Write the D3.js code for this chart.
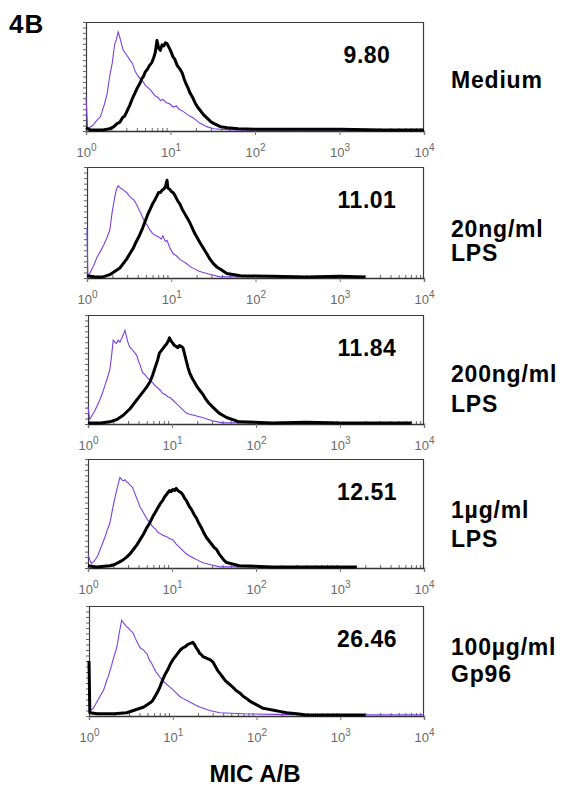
<!DOCTYPE html>
<html>
<head>
<meta charset="utf-8">
<script src="https://cdn.jsdelivr.net/npm/d3@7"></script>
<style>
  body { margin: 0; background: #fff; }
  svg { display: block; }
</style>
</head>
<body>
<svg id="chart" width="565" height="787"></svg>
<script>
const fontFamily = `Arial, "Liberation Sans", Helvetica, sans-serif`;

// readouts: [decade exponent, % of panel height]
const mediumIso = [[0,31],[0.02,2],[0.08,5],[0.12,9],[0.17,13],[0.22,25],[0.25,34],[0.28,50],[0.31,62],[0.34,80],[0.36,84],[0.38,91],[0.40,86],[0.42,80],[0.44,74],[0.48,70],[0.52,65],[0.55,62],[0.58,55],[0.61,51],[0.64,48],[0.67,46],[0.70,42],[0.73,40],[0.76,38],[0.79,35],[0.82,32],[0.85,31],[0.88,28],[0.91,29],[0.95,26],[0.99,25],[1.03,22],[1.07,23],[1.10,20],[1.15,18],[1.20,15],[1.27,12],[1.35,7],[1.43,4],[1.51,2],[1.7,1],[2.0,1],[2.5,1],[3.0,1],[3.5,1],[4,1]];
const mediumMic = [[0,3],[0.05,1],[0.2,1],[0.28,2],[0.33,4],[0.37,7],[0.40,8],[0.43,12],[0.46,14],[0.49,19],[0.52,24],[0.55,30],[0.58,35],[0.61,40],[0.64,44],[0.66,48],[0.68,50],[0.70,54],[0.73,57],[0.75,60],[0.78,63],[0.80,67],[0.82,72],[0.84,83],[0.86,76],[0.88,74],[0.90,79],[0.92,78],[0.94,81],[0.96,80],[0.98,77],[1.0,74],[1.03,68],[1.05,66],[1.08,60],[1.11,57],[1.14,53],[1.16,48],[1.18,44],[1.21,39],[1.23,35],[1.26,31],[1.29,26],[1.32,22],[1.35,19],[1.39,15],[1.43,12],[1.47,9],[1.51,7],[1.59,4],[1.67,3],[1.8,2],[2.0,1.5],[2.5,1.5],[3.0,1.5],[3.5,1],[4,1]];

const lps20Iso = [[0,45],[0.01,1],[0.06,8],[0.09,13],[0.12,19],[0.16,24],[0.2,30],[0.24,37],[0.27,43],[0.30,60],[0.33,73],[0.35,80],[0.37,83],[0.40,81],[0.42,80],[0.45,78],[0.47,77],[0.50,74],[0.53,72],[0.56,70],[0.59,66],[0.62,61],[0.64,58],[0.67,53],[0.69,50],[0.72,47],[0.74,44],[0.76,42],[0.78,40],[0.82,38],[0.85,37],[0.88,35],[0.90,38],[0.93,33],[0.95,34],[0.98,28],[1.02,22],[1.06,20],[1.10,17],[1.14,15],[1.18,13],[1.23,10],[1.28,8],[1.33,6],[1.38,5],[1.48,3],[1.58,1],[2.0,1],[2.5,1],[3.0,1],[3.3,1.5]];
const lps20Mic = [[0,2],[0.1,1],[0.19,1],[0.27,3],[0.31,5],[0.35,7],[0.39,9],[0.43,13],[0.47,17],[0.51,22],[0.55,27],[0.58,32],[0.62,38],[0.66,45],[0.69,51],[0.72,57],[0.75,62],[0.78,67],[0.81,71],[0.83,74],[0.85,77],[0.87,77],[0.89,79],[0.91,80],[0.93,82],[0.95,88],[0.96,81],[0.98,80],[1.00,78],[1.02,77],[1.04,75],[1.06,72],[1.08,69],[1.10,67],[1.13,62],[1.16,58],[1.19,54],[1.22,50],[1.25,45],[1.28,40],[1.31,36],[1.34,32],[1.38,27],[1.42,22],[1.46,17],[1.50,13],[1.54,10],[1.58,8],[1.66,4],[1.82,2],[2.2,1.5],[2.6,1],[3.0,1.5],[3.3,1]];

const lps200Iso = [[0,16],[0.02,4],[0.05,8],[0.08,12],[0.11,17],[0.14,22],[0.17,28],[0.20,35],[0.23,42],[0.26,50],[0.28,62],[0.30,77],[0.32,75],[0.34,74],[0.36,77],[0.38,75],[0.41,80],[0.44,86],[0.46,80],[0.47,76],[0.50,70],[0.52,69],[0.54,67],[0.56,65],[0.58,63],[0.60,58],[0.62,54],[0.65,47],[0.68,45],[0.71,42],[0.74,40],[0.77,38],[0.80,35],[0.83,33],[0.86,31],[0.89,28],[0.92,27],[0.95,25],[0.98,24],[1.01,22],[1.05,19],[1.09,16],[1.13,13],[1.17,10],[1.21,9],[1.26,8],[1.36,6],[1.48,3],[1.60,1],[2.0,1],[2.5,1.5],[3.0,1],[3.5,1],[3.85,1]];
const lps200Mic = [[0,1],[0.15,1],[0.26,2],[0.30,3],[0.34,4],[0.38,6],[0.42,8],[0.46,11],[0.50,14],[0.54,18],[0.58,22],[0.62,26],[0.66,30],[0.70,34],[0.74,39],[0.77,45],[0.80,52],[0.83,59],[0.85,65],[0.88,68],[0.90,70],[0.92,72],[0.94,74],[0.96,77],[0.97,79],[0.99,76],[1.01,74],[1.03,72],[1.05,71],[1.07,70],[1.09,72],[1.11,71],[1.13,70],[1.15,64],[1.17,58],[1.19,52],[1.21,47],[1.24,42],[1.27,38],[1.30,34],[1.33,31],[1.37,27],[1.40,23],[1.44,19],[1.48,16],[1.52,13],[1.56,10],[1.65,6],[1.80,2],[2.2,1],[2.6,1.5],[3.0,1],[3.5,1],[3.85,1]];

const lps1Iso = [[0,12],[0.04,4],[0.07,6],[0.09,8],[0.12,12],[0.14,16],[0.17,22],[0.20,28],[0.23,35],[0.26,41],[0.28,49],[0.30,57],[0.32,64],[0.34,71],[0.36,77],[0.38,83],[0.40,81],[0.42,80],[0.44,81],[0.46,79],[0.48,78],[0.50,76],[0.53,74],[0.56,68],[0.58,64],[0.60,60],[0.62,56],[0.65,52],[0.68,48],[0.71,44],[0.74,41],[0.77,38],[0.80,36],[0.83,33],[0.85,32],[0.89,30],[0.93,29],[0.97,27],[1.01,26],[1.05,22],[1.09,19],[1.13,16],[1.17,13],[1.21,11],[1.26,9],[1.31,7],[1.36,5],[1.46,3],[1.57,1],[2.0,1],[2.5,1],[3.0,1],[3.2,1]];
const lps1Mic = [[0,2],[0.1,1],[0.26,2],[0.31,3],[0.36,5],[0.41,7],[0.46,10],[0.50,13],[0.54,17],[0.58,21],[0.62,26],[0.66,31],[0.70,37],[0.74,42],[0.77,47],[0.80,51],[0.83,55],[0.86,59],[0.89,62],[0.91,65],[0.93,67],[0.95,69],[0.97,71],[0.99,70],[1.01,72],[1.03,71],[1.05,73],[1.07,71],[1.09,70],[1.11,69],[1.13,67],[1.15,64],[1.17,62],[1.19,59],[1.21,56],[1.23,54],[1.25,51],[1.27,48],[1.29,46],[1.32,41],[1.35,37],[1.38,32],[1.41,28],[1.44,25],[1.47,22],[1.50,19],[1.53,17],[1.56,13],[1.59,10],[1.62,7],[1.65,5],[1.80,2],[2.2,1],[2.6,1],[3.0,1],[3.2,1]];

const gp96Iso = [[0,4],[0.05,7],[0.08,11],[0.11,15],[0.14,19],[0.17,23],[0.19,27],[0.21,32],[0.23,36],[0.25,41],[0.27,46],[0.29,52],[0.31,57],[0.33,62],[0.35,70],[0.36,75],[0.38,83],[0.39,87],[0.41,85],[0.42,84],[0.45,81],[0.47,80],[0.49,78],[0.51,77],[0.53,75],[0.55,71],[0.57,68],[0.59,65],[0.61,62],[0.63,61],[0.65,60],[0.67,58],[0.69,57],[0.72,51],[0.74,49],[0.76,46],[0.78,43],[0.80,40],[0.83,37],[0.85,35],[0.88,32],[0.91,30],[0.94,28],[0.97,26],[1.00,24],[1.04,21],[1.08,18],[1.12,16],[1.17,14],[1.22,12],[1.27,10],[1.33,8],[1.44,5],[1.56,3],[1.84,2],[2.2,1.5],[2.6,1],[3.0,1],[3.5,1],[4.0,1]];
const gp96Mic = [[0,50],[0.01,3],[0.1,2],[0.3,2],[0.45,3],[0.53,5],[0.61,7],[0.65,8],[0.69,10],[0.73,12],[0.76,14],[0.79,18],[0.82,22],[0.85,27],[0.88,33],[0.91,38],[0.94,42],[0.97,47],[1.00,51],[1.03,54],[1.06,57],[1.09,60],[1.12,62],[1.15,63],[1.18,65],[1.21,66],[1.24,67],[1.26,65],[1.28,62],[1.30,60],[1.32,57],[1.34,56],[1.36,54],[1.39,53],[1.42,52],[1.45,51],[1.48,49],[1.51,45],[1.54,41],[1.57,38],[1.60,35],[1.63,32],[1.66,30],[1.69,28],[1.72,26],[1.76,23],[1.80,21],[1.84,18],[1.88,16],[1.93,13],[1.98,11],[2.03,9],[2.08,7],[2.15,6],[2.22,5],[2.29,4],[2.36,3],[2.48,2],[2.60,1],[3.0,1],[3.3,1]];

const isoCurves = [mediumIso, lps20Iso, lps200Iso, lps1Iso, gp96Iso];
const micCurves = [mediumMic, lps20Mic, lps200Mic, lps1Mic, gp96Mic];
const mfiValues = ["9.80", "11.01", "11.84", "12.51", "26.46"];
const conditionLabels = [["Medium"], ["20ng/ml", "LPS"], ["200ng/ml", "LPS"], ["1µg/ml", "LPS"], ["100µg/ml", "Gp96"]];
const decadeExponents = [0, 1, 2, 3, 4];

// layout (pixels)
const panelTops = [22, 167, 315, 459, 606];
const panelLefts = [86, 87, 88, 88, 89];
const panelHeights = [109, 111, 109, 109, 110];
const panelRight = 424;
const labelBaselines = [[66], [70, 94], [67, 97], [59, 88], [49, 76]];

const svg = d3.select("#chart");

svg.append("text")
  .attr("x", 9)
  .attr("y", 33)
  .attr("font-family", fontFamily)
  .attr("font-weight", "bold")
  .attr("font-size", 26)
  .attr("letter-spacing", 1)
  .text("4B");

const minorTicks = [];
for (let k = 0; k < 4; k++) {
  for (let m = 2; m <= 9; m++) minorTicks.push(m * 10 ** k);
}

const frames = svg.append("g").attr("id", "frames");

isoCurves.forEach((iso, i) => {
  const left = panelLefts[i];
  const top = panelTops[i];
  const h = panelHeights[i];
  const w = panelRight - left;

  const x = d3.scaleLog().domain([1, 1e4]).range([0, w]);
  const y = d3.scaleLinear().domain([0, 100]).range([h, 0]);

  const g = svg.append("g")
    .attr("class", "panel")
    .attr("transform", `translate(${left}, ${top})`);

  // left minor ticks
  g.append("g")
    .call(d3.axisLeft(y).ticks(20).tickSize(3).tickFormat(""))
    .call((a) => a.select(".domain").remove())
    .call((a) => a.selectAll("line").attr("stroke", "#666"));

  // bottom minor + decade ticks
  g.append("g")
    .attr("transform", `translate(0, ${h})`)
    .call(d3.axisBottom(x).tickValues(minorTicks).tickSize(-3).tickFormat(""))
    .call((a) => a.select(".domain").remove())
    .call((a) => a.selectAll("line").attr("stroke", "#666"));

  const major = g.append("g")
    .attr("transform", `translate(0, ${h})`)
    .call(d3.axisBottom(x).tickValues(decadeExponents.map((e) => 10 ** e)).tickSize(4).tickPadding(9))
    .call((a) => a.select(".domain").attr("stroke", "#333").attr("stroke-width", 1.3))
    .call((a) => a.selectAll("line").attr("stroke", "#777"));

  major.selectAll("text")
    .attr("font-family", fontFamily)
    .attr("font-size", 13)
    .attr("fill", "#6a6a6a")
    .attr("dy", "1.0em")
    .each(function (d) {
      const t = d3.select(this).text("");
      t.append("tspan").text("10");
      t.append("tspan")
        .attr("font-size", 10)
        .attr("dy", "-0.6em")
        .text(Math.round(Math.log10(d)));
    });

  const line = d3.line()
    .x((d) => x(10 ** d[0]))
    .y((d) => y(d[1]));

  g.append("path")
    .datum(iso)
    .attr("fill", "none")
    .attr("stroke", "#7b3fe4")
    .attr("stroke-width", 1.1)
    .attr("d", line);

  g.append("path")
    .datum(micCurves[i])
    .attr("fill", "none")
    .attr("stroke", "#000")
    .attr("stroke-width", 3)
    .attr("stroke-linejoin", "round")
    .attr("d", line);

  // frame lines drawn in page coordinates
  frames.append("line")
    .attr("x1", left).attr("x2", panelRight)
    .attr("y1", top + 0.5).attr("y2", top + 0.5)
    .style("stroke", "#3c3c3c").style("stroke-width", "1.2px");
  frames.append("line")
    .attr("x1", panelRight - 0.5).attr("x2", panelRight - 0.5)
    .attr("y1", top).attr("y2", top + h)
    .style("stroke", "#3c3c3c").style("stroke-width", "1.2px");
  frames.append("line")
    .attr("x1", left + 0.5).attr("x2", left + 0.5)
    .attr("y1", top).attr("y2", top + h)
    .style("stroke", "#3c3c3c").style("stroke-width", "1.2px");

  svg.append("text")
    .attr("x", 367)
    .attr("y", top + 41)
    .attr("text-anchor", "middle")
    .attr("font-family", fontFamily)
    .attr("font-weight", "bold")
    .attr("font-size", 23)
    .attr("letter-spacing", 0.5)
    .text(mfiValues[i]);

  svg.append("text")
    .attr("font-family", fontFamily)
    .attr("font-weight", "bold")
    .attr("font-size", 23)
    .attr("letter-spacing", 0.8)
    .selectAll("tspan")
    .data(conditionLabels[i])
    .enter()
    .append("tspan")
    .attr("x", 451)
    .attr("y", (d, j) => top + labelBaselines[i][j])
    .text((d) => d);
});

svg.append("text")
  .attr("x", 255)
  .attr("y", 782)
  .attr("text-anchor", "middle")
  .attr("font-family", fontFamily)
  .attr("font-weight", "bold")
  .attr("font-size", 24)
  .text("MIC A/B");
</script>
</body>
</html>
